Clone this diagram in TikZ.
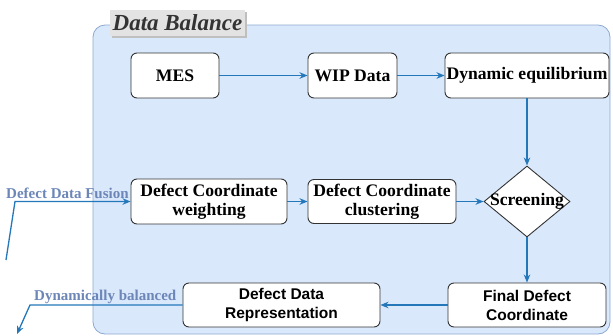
\documentclass[tikz,border=0pt]{standalone}
\usepackage{fontspec}
\setmainfont{Liberation Serif}
\newfontfamily\arialfont{Liberation Sans}
\usetikzlibrary{shapes.geometric,arrows.meta}
\definecolor{bgfill}{HTML}{DAE8FC}
\definecolor{bgline}{HTML}{8EA9CF}
\definecolor{arrowc}{RGB}{36,120,185}
\definecolor{labelc}{HTML}{6C86B8}
\definecolor{boxline}{HTML}{333333}
\tikzset{
  procbox/.style={draw=boxline, line width=0.9pt, fill=white, rounded corners=6pt,
    align=center, inner sep=0pt, font=\fontsize{17.6}{19.5}\selectfont\bfseries},
  sansbox/.style={procbox, font=\arialfont\fontsize{15.5}{19}\selectfont\bfseries},
  flow/.style={draw=arrowc, line width=1.3pt, -{Stealth[length=8pt,width=6.5pt,inset=2.5pt]}},
  sidelabel/.style={text=labelc, inner sep=0pt, anchor=west, font=\fontsize{15}{17}\selectfont\bfseries},
}
\begin{document}
\begin{tikzpicture}[x=1pt,y=-1pt]
\useasboundingbox (0,0) rectangle (613,335);
% background container
\draw[fill=bgfill, draw=bgline, line width=0.8pt, rounded corners=12pt] (93,25) rectangle (610,334);
\fill[black!25] (112,12) rectangle (247,38);
\node[fill=black!11, text=black!80, inner sep=0pt, minimum width=135pt, minimum height=26pt,
  font=\fontsize{23}{25}\selectfont\bfseries\itshape] (title) at (177.5,23) {Data Balance};
% nodes
\node[procbox, minimum width=88pt, minimum height=45pt] (mes) at (175,75.5) {MES};
\node[procbox, minimum width=89pt, minimum height=45pt] (wip) at (352.5,75.5) {WIP Data};
\node[procbox, minimum width=164pt, minimum height=45pt] (dyn) at (527,75.5) {Dynamic equilibrium};
\node[procbox, minimum width=156pt, minimum height=45pt] (wgt) at (209,201.5) {Defect Coordinate\\weighting};
\node[procbox, minimum width=148pt, minimum height=44pt] (clu) at (382,201.5) {Defect Coordinate\\clustering};
\node[diamond, draw=boxline, line width=0.9pt, fill=white, inner sep=0pt,
  minimum width=86pt, minimum height=71pt,
  label={[font=\fontsize{17.6}{19.5}\selectfont\bfseries, inner sep=0pt]center:Screening}] (scr) at (527,201.5) {};
\node[sansbox, minimum width=158pt, minimum height=44pt] (fin) at (527,305) {Final Defect\\Coordinate};
\node[sansbox, minimum width=197pt, minimum height=44pt] (rep) at (281.5,305) {Defect Data\\Representation};
% connectors
\draw[flow] (mes) -- (wip);
\draw[flow] (wip) -- (dyn);
\draw[flow] (dyn.south) -- (scr.north);
\draw[flow] (wgt) -- (clu);
\draw[flow] (clu) -- (scr.west);
\draw[flow] (scr.south) -- (fin.north);
\draw[flow] (fin) -- (rep);
% side inputs / outputs
\coordinate (fa) at (6,260);
\coordinate (fb) at (15,201.5);
\draw[flow] (fa) -- (fb) -- (wgt.west);
\node[sidelabel] (lfus) at (6,193) {Defect Data Fusion};
\coordinate (da) at (30,305);
\coordinate (db) at (17,334);
\draw[flow] (rep.west) -- (da) -- (db);
\node[sidelabel] (lbal) at (34,297) {Dynamically balanced};
\end{tikzpicture}
\end{document}
